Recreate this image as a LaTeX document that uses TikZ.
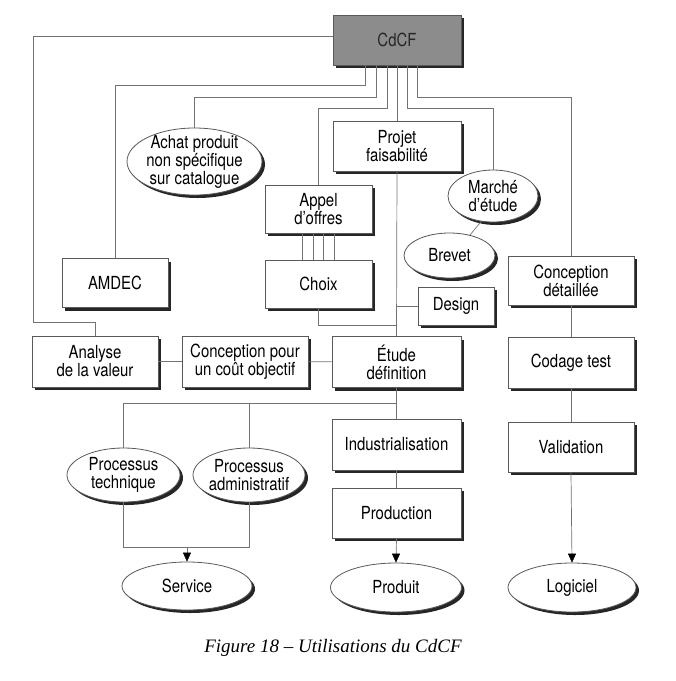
\documentclass[tikz,border=0pt]{standalone}
\usepackage{fontspec}
\newfontfamily\heros[FakeStretch=0.83]{TeX Gyre Heros}
\newfontfamily\capserif{Liberation Serif}
\usetikzlibrary{shapes.geometric,shadows,arrows.meta}
\newcommand\lblfont{\heros\fontsize{18}{18}\selectfont}
\begin{document}
\begin{tikzpicture}[x=1pt,y=-1pt,
  shad/.style={drop shadow={shadow xshift=3pt,shadow yshift=-3pt,fill=black!85,opacity=1}},
  box/.style={rectangle,draw=black!65,line width=0.8pt,fill=white,inner sep=0pt,
    align=center,font=\lblfont,text=black,shad},
  oval/.style={ellipse,draw=black!65,line width=0.8pt,fill=white,inner sep=-5pt,
    align=center,font=\lblfont,text=black,shad},
  conn/.style={draw=black!55,line width=0.7pt},
  tipline/.style={draw=black!55,line width=0.7pt,shorten >=8pt},
  tip/.style={-{Triangle[length=9pt,width=8pt]},draw=black,fill=black,line width=0.4pt}]
\useasboundingbox (0,0) rectangle (676,681);

% boxes
\node[box,fill=black!45,minimum width=128pt,minimum height=50pt,text=black!85] (cdcf) at (397,40) {CdCF};
\node[box,minimum width=128pt,minimum height=50pt] (projet) at (397,146) {Projet\\faisabilité};
\node[box,minimum width=107pt,minimum height=48pt] (appel) at (318.5,209) {Appel\\d’offres};
\node[box,minimum width=107pt,minimum height=48pt] (choix) at (318.5,284) {Choix};
\node[box,minimum width=106pt,minimum height=49pt] (amdec) at (115,283) {AMDEC};
\node[box,minimum width=76pt,minimum height=38pt] (design) at (456,306) {Design};
\node[box,minimum width=126pt,minimum height=49pt] (concdet) at (571,280.5) {Conception\\détaillée};
\node[box,minimum width=126pt,minimum height=51pt] (analyse) at (95,361.5) {Analyse\\de la valeur};
\node[box,minimum width=126pt,minimum height=51pt] (conccout) at (245,361.5) {Conception pour\\un coût objectif};
\node[box,minimum width=129pt,minimum height=51pt] (etude) at (396.5,362) {Étude\\définition};
\node[box,minimum width=126pt,minimum height=51pt] (codage) at (571,362.5) {Codage test};
\node[box,minimum width=129pt,minimum height=51pt] (indus) at (396.5,444.5) {Industrialisation};
\node[box,minimum width=129pt,minimum height=50pt] (prod) at (396.5,513) {Production};
\node[box,minimum width=126pt,minimum height=50pt] (valid) at (571,447) {Validation};

% ellipses
\node[oval,minimum width=135pt,minimum height=67pt] (achat) at (194.5,161.5) {Achat produit\\non spécifique\\sur catalogue};
\node[oval,minimum width=90pt,minimum height=52pt] (marche) at (493,196) {Marché\\d’étude};
\node[oval,minimum width=91pt,minimum height=45pt] (brevet) at (449.5,255.5) {Brevet};
\node[oval,minimum width=113pt,minimum height=54pt] (proctech) at (123.5,475) {Processus\\technique};
\node[oval,minimum width=112pt,minimum height=54pt] (procadm) at (249,475) {Processus\\administratif};
\node[oval,minimum width=130pt,minimum height=48pt] (service) at (187,586) {Service};
\node[oval,minimum width=131pt,minimum height=49pt] (produit) at (396,587.5) {Produit};
\node[oval,minimum width=128pt,minimum height=49pt] (logiciel) at (572,587.5) {Logiciel};

% caption
\node[font=\capserif\itshape\fontsize{19}{22}\selectfont] (caption) at (333,648) {Figure 18 – Utilisations du CdCF};

% junction coordinates
\coordinate (jl1) at (33,322);
\coordinate (jchoix) at (397,325);
\coordinate (jproc) at (396.5,403);
\coordinate (jserv) at (123.5,547);

% connectors from CdCF
\draw[conn] ([yshift=4pt]cdcf.west) -| (jl1) -| (analyse.north);
\draw[conn] ([xshift=-32pt]cdcf.south) -- ++(0,20) -| (amdec.north);
\draw[conn] ([xshift=-21pt]cdcf.south) -- ++(0,32) -| (achat.north);
\draw[conn] ([xshift=-10pt]cdcf.south) -- ++(0,43) -| (appel.north);
\draw[conn] (cdcf.south) -- (projet.north);
\draw[conn] ([xshift=10pt]cdcf.south) -- ++(0,43) -| (marche.north);
\draw[conn] ([xshift=20pt]cdcf.south) -- ++(0,32) -| (concdet.north);

% middle
\foreach \dx in {-16,-5.5,5,16}
  \draw[conn] ([xshift=\dx pt]appel.south) -- ([xshift=\dx pt]choix.north);
\draw[conn] (choix.south) |- (jchoix);
\draw[conn] (projet.south) -- (etude.north);
\draw[conn] (design.west) -- (design.west -| projet.south);
\draw[conn] (marche.-115) -- (brevet.45);
\draw[conn] (analyse) -- (conccout);
\draw[conn] (conccout) -- (etude);

% bottom centre
\draw[conn] (etude.south) -- (indus.north);
\draw[conn] (indus.south) -- (prod.north);
\draw[tipline] (prod.south) -- (produit.north);
\draw[tip] ([yshift=9pt]produit.north) -- (produit.north);

% right column
\draw[conn] (concdet.south) -- (codage.north);
\draw[conn] (codage.south) -- (valid.north);
\draw[tipline] (valid.south) -- (logiciel.north);
\draw[tip] ([yshift=9pt]logiciel.north) -- (logiciel.north);

% processes
\draw[conn] (proctech.north) |- (jproc);
\draw[conn] (procadm.north) -- (procadm.north |- jproc);
\draw[conn] (proctech.south) -- (jserv) -| (procadm.south);
\draw[tipline] (service.north |- jserv) -- (service.north);
\draw[tip] ([yshift=9pt]service.north) -- (service.north);
\end{tikzpicture}
\end{document}
